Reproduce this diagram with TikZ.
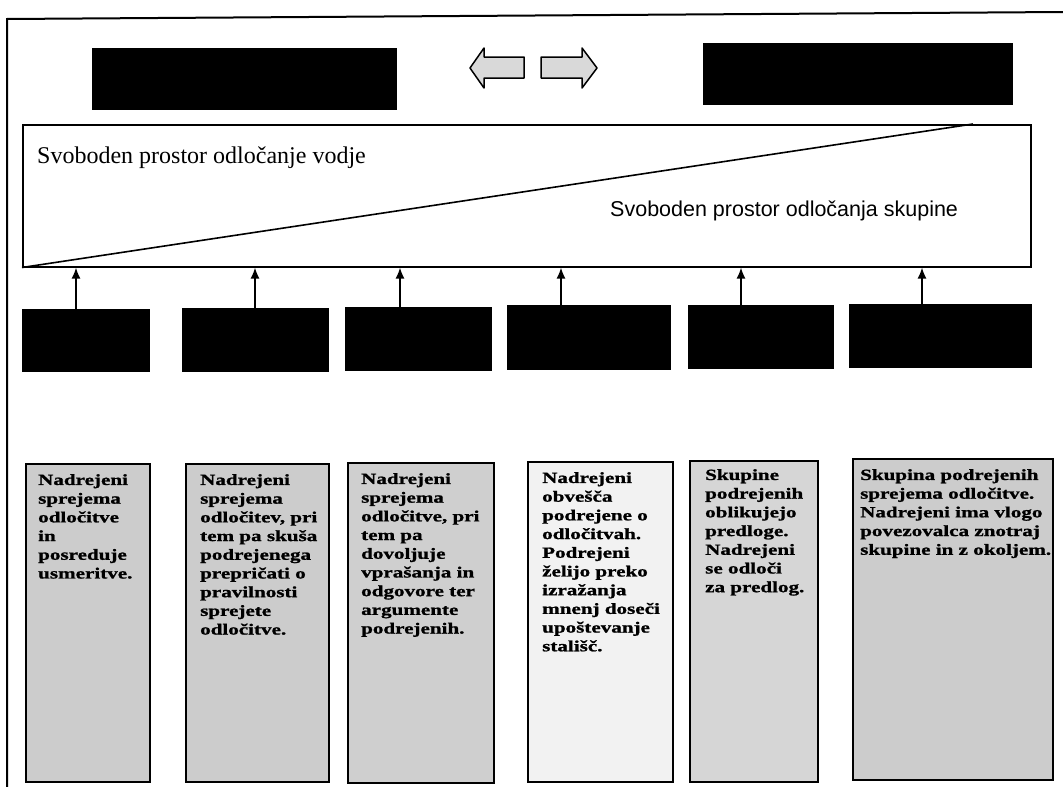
\documentclass[tikz,border=0pt]{standalone}
\usepackage{fontspec}
\setmainfont{Liberation Serif}
\newfontfamily\boxfont[FakeStretch=1.36,FakeBold=1.2]{Liberation Serif}
\newfontfamily\labsans{Liberation Sans}
\usetikzlibrary{arrows.meta}
\tikzset{
  frameline/.style={line width=2pt, black},
  blackbox/.style={draw=black, fill=black, line width=0.8pt, anchor=north west, inner sep=0pt},
  textbox/.style={draw=black, line width=1.8pt, anchor=north west, inner sep=0pt},
  boxtext/.style={anchor=north west, inner sep=0pt, align=left, font=\boxfont\bfseries\fontsize{15.5}{18.7}\selectfont},
  uparrow/.style={line width=1.8pt, -{Latex[length=11pt,width=9pt]}},
  blockarrow/.style={draw=black, line width=1.5pt, fill=gray!30, line join=round},
}
\begin{document}
\begin{tikzpicture}[x=1pt,y=-1pt]
\useasboundingbox (0,0) rectangle (1063,787);
% outer frame
\coordinate (fTR) at (1063,12);
\coordinate (fTL) at (7,19);
\coordinate (fBL) at (7,787);
\draw[frameline] (fTR) -- (fTL) -- (fBL);

% top black boxes
\node[blackbox, minimum width=304pt, minimum height=61pt] (topL) at (92,48) {};
\node[blackbox, minimum width=309pt, minimum height=61pt] (topR) at (703,43) {};

% two block arrows
\draw[blockarrow] (470,68) -- (484,48) -- (484,57) -- (524,57) -- (524,78) -- (484,78) -- (484,88) -- cycle;
\draw[blockarrow] (541,57) -- (582,57) -- (582,48) -- (597,68) -- (582,88) -- (582,78) -- (541,78) -- cycle;

% triangle box
\node[draw=black, line width=1.5pt, anchor=north west, inner sep=0pt, minimum width=1008pt, minimum height=142pt] (tri) at (22,124) {};
\coordinate (diagEnd) at (973,124);
\draw[line width=1.6pt] (tri.south west) -- (diagEnd);
\node[anchor=base west, inner sep=0pt, font=\fontsize{24}{28}\selectfont] (lblL) at (37,163) {Svoboden prostor odločanje vodje};
\node[anchor=base west, inner sep=0pt, font=\labsans\fontsize{21.5}{26}\selectfont] (lblR) at (610,216) {Svoboden prostor odločanja skupine};

% middle black boxes
\node[blackbox, minimum width=127pt, minimum height=62pt] (m1) at (22,309) {};
\node[blackbox, minimum width=146pt, minimum height=63pt] (m2) at (182,308) {};
\node[blackbox, minimum width=146pt, minimum height=63pt] (m3) at (345,307) {};
\node[blackbox, minimum width=163pt, minimum height=64pt] (m4) at (507,305) {};
\node[blackbox, minimum width=145pt, minimum height=63pt] (m5) at (688,305) {};
\node[blackbox, minimum width=182pt, minimum height=63pt] (m6) at (849,304) {};

% arrows up
\coordinate (x1) at (76,0);
\coordinate (x2) at (255,0);
\coordinate (x3) at (400,0);
\coordinate (x4) at (561,0);
\coordinate (x5) at (741,0);
\coordinate (x6) at (922,0);
\draw[uparrow] (x1 |- m1.north) -- (x1 |- tri.south);
\draw[uparrow] (x2 |- m2.north) -- (x2 |- tri.south);
\draw[uparrow] (x3 |- m3.north) -- (x3 |- tri.south);
\draw[uparrow] (x4 |- m4.north) -- (x4 |- tri.south);
\draw[uparrow] (x5 |- m5.north) -- (x5 |- tri.south);
\draw[uparrow] (x6 |- m6.north) -- (x6 |- tri.south);

% bottom text boxes
\node[textbox, fill=gray!40, minimum width=124pt, minimum height=318pt] (b1) at (25,463) {};
\node[textbox, fill=gray!40, minimum width=143pt, minimum height=318pt] (b2) at (185,463) {};
\node[textbox, fill=gray!38, minimum width=146pt, minimum height=320pt] (b3) at (347,462) {};
\node[textbox, fill=gray!10, minimum width=145pt, minimum height=320pt] (b4) at (527,461) {};
\node[textbox, fill=gray!32, minimum width=128pt, minimum height=321pt] (b5) at (689,460) {};
\node[textbox, fill=gray!40, minimum width=200pt, minimum height=321pt] (b6) at (852,458) {};

\node[boxtext] (t1) at ([shift={(13,11)}]b1.north west) {Nadrejeni\\sprejema\\odločitve\\in\\posreduje\\usmeritve.};
\node[boxtext] (t2) at ([shift={(15,11)}]b2.north west) {Nadrejeni\\sprejema\\odločitev, pri\\tem pa skuša\\podrejenega\\prepričati o\\pravilnosti\\sprejete\\odločitve.};
\node[boxtext] (t3) at ([shift={(14,11)}]b3.north west) {Nadrejeni\\sprejema\\odločitve, pri\\tem pa\\dovoljuje\\vprašanja in\\odgovore ter\\argumente\\podrejenih.};
\node[boxtext] (t4) at ([shift={(15,11)}]b4.north west) {Nadrejeni\\obvešča\\podrejene o\\odločitvah.\\Podrejeni\\želijo preko\\izražanja\\mnenj doseči\\upoštevanje\\stališč.};
\node[boxtext] (t5) at ([shift={(16,9)}]b5.north west) {Skupine\\podrejenih\\oblikujejo\\predloge.\\Nadrejeni\\se odloči\\za predlog.};
\node[boxtext] (t6) at ([shift={(8,11)}]b6.north west) {Skupina podrejenih\\sprejema odločitve.\\Nadrejeni ima vlogo\\povezovalca znotraj\\skupine in z okoljem.};
\end{tikzpicture}
\end{document}
